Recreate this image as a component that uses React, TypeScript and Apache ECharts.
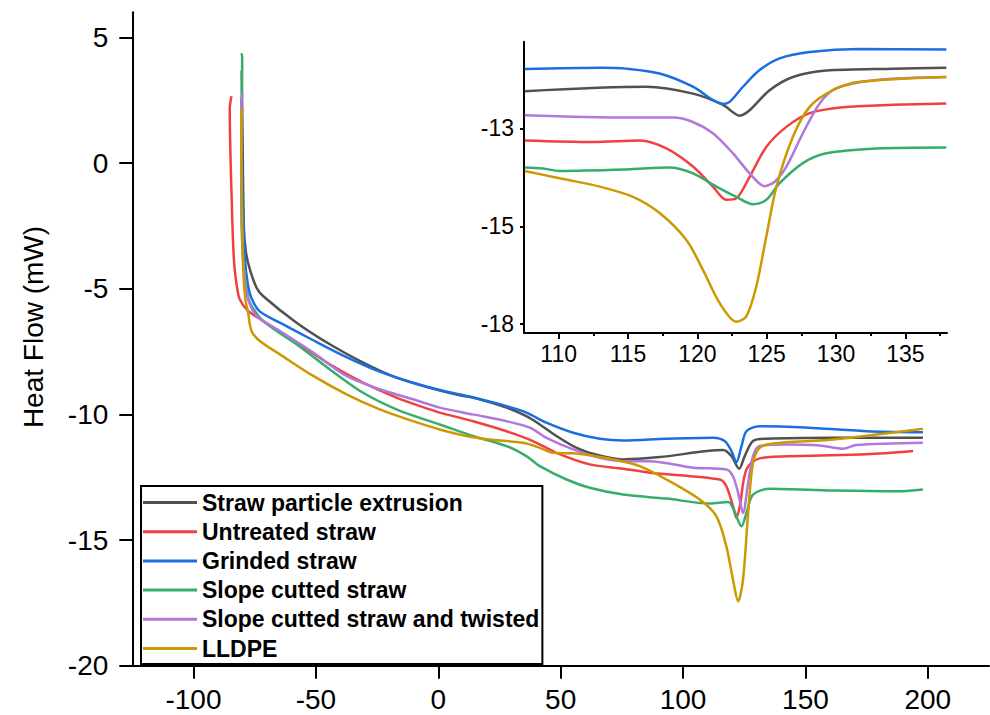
import React, { useEffect, useRef } from "react";
import * as echarts from "echarts";

const FONT = "'Liberation Sans', Arial, Helvetica, sans-serif";

const seriesNames = [
  "Straw particle extrusion",
  "Untreated straw",
  "Grinded straw",
  "Slope cutted straw",
  "Slope cutted straw and twisted",
  "LLDPE",
];
const seriesColors = ["#515151", "#F14040", "#1A6FDF", "#37AD6B", "#B177DE", "#CC9900"];

// main axis ticks
const mainXTicks = [-100, -50, 0, 50, 100, 150, 200];
const mainYTicks = [-20, -15, -10, -5, 0, 5];

// inset axis ticks
const insetXTicks = [110, 115, 120, 125, 130, 135];
const insetXMinorTicks = [112.5, 117.5, 122.5, 127.5, 132.5, 137.5];
const insetYTicks = [-17, -15, -13];
const insetYLabels = ["-18", "-15", "-13"];

// ---- main chart data: [temperature (°C), heat flow (mW)]
const mainExtrusion = [
  [-80.3, 3.67], [-79.9, 0.56], [-79.4, -2.63], [-78.5, -3.6], [-77.0, -4.22], [-74.3, -4.95],
  [-71.6, -5.29], [-57.9, -6.35], [-44.3, -7.21], [-30.7, -7.94], [-17.1, -8.54], [-3.5, -8.94], [8.8, -9.24],
  [14.2, -9.33], [27.9, -9.73], [36.0, -10.07], [41.5, -10.4], [48.3, -10.86], [55.1, -11.26],
  [61.9, -11.53], [75.5, -11.79], [90.5, -11.7], [116.3, -11.42], [119.8, -11.66], [122.9, -12.16],
  [125.2, -11.66], [128.6, -11.06], [134.1, -10.97], [161.3, -10.93], [198.0, -10.93],
];
const mainUntreated = [
  [-84.5, 2.66], [-85.2, 2.15], [-84.4, -1.43], [-83.5, -3.82], [-82.4, -4.82], [-81.1, -5.42],
  [-77.7, -5.88], [-71.6, -6.28], [-57.9, -7.14], [-44.3, -8.01], [-30.7, -8.74], [-17.1, -9.33],
  [-3.5, -9.8], [0.6, -9.93], [14.2, -10.27], [27.9, -10.67], [38.7, -11.06], [48.3, -11.53],
  [61.9, -11.99], [75.5, -12.16], [86.4, -12.32], [115.0, -12.59], [117.7, -12.86], [120.4, -13.65],
  [121.8, -14.12], [123.2, -13.65], [125.9, -12.19], [131.3, -11.75], [147.7, -11.66],
  [174.9, -11.59], [194.0, -11.46],
];
const mainGrinded = [
  [-80.4, 2.55], [-79.9, -1.43], [-79.0, -3.82], [-77.8, -4.82], [-76.3, -5.38], [-72.9, -5.9],
  [-64.7, -6.35], [-51.1, -7.05], [-37.5, -7.72], [-23.9, -8.3], [-10.3, -8.74], [0.6, -9.03],
  [14.2, -9.33], [27.9, -9.67], [36.0, -9.93], [44.2, -10.33], [55.1, -10.73], [66.0, -10.97],
  [75.5, -11.04], [93.2, -10.97], [112.3, -10.93], [117.0, -11.06], [119.8, -11.46], [121.8, -11.9],
  [123.9, -11.26], [125.9, -10.67], [131.3, -10.47], [147.7, -10.51], [174.9, -10.67], [198.0, -10.71],
];
const mainSlopeCut = [
  [-80.4, 4.37], [-80.1, 4.22], [-80.5, 0.56], [-80.3, -2.63], [-79.4, -4.22], [-78.2, -5.1],
  [-77.0, -5.55], [-71.6, -6.28], [-57.9, -7.21], [-44.3, -8.21], [-30.7, -9.14], [-17.1, -9.8],
  [-3.5, -10.27], [0.6, -10.4], [14.2, -10.86], [27.9, -11.26], [36.0, -11.66], [41.5, -12.06],
  [52.4, -12.59], [61.9, -12.92], [75.5, -13.19], [93.2, -13.35], [110.9, -13.55], [118.4, -13.49],
  [120.4, -13.72], [123.9, -14.45], [125.9, -13.92], [128.6, -13.19], [135.4, -12.96],
  [161.3, -13.03], [188.5, -13.06], [198.0, -12.99],
];
const mainSlopeTwisted = [
  [-80.0, 2.75], [-80.5, 2.35], [-80.3, -1.43], [-79.7, -3.82], [-78.8, -4.82], [-77.7, -5.42],
  [-74.3, -6.08], [-64.7, -6.68], [-51.1, -7.54], [-37.5, -8.47], [-23.9, -9.0], [-10.3, -9.4],
  [0.6, -9.73], [14.2, -10.0], [27.9, -10.27], [37.4, -10.53], [44.2, -10.93], [55.1, -11.39],
  [66.0, -11.73], [75.5, -11.86], [86.4, -11.86], [104.1, -12.12], [117.7, -12.19], [120.4, -12.46],
  [122.5, -13.12], [124.5, -13.92], [126.6, -12.72], [128.6, -11.66], [131.3, -11.26],
  [142.2, -11.2], [155.8, -11.24], [165.4, -11.37], [170.8, -11.22], [198.0, -11.13],
];
const mainLLDPE = [
  [-80.0, 2.18], [-80.5, 1.75], [-80.3, -1.43], [-79.7, -4.22], [-78.8, -5.42], [-77.7, -5.95],
  [-76.3, -6.68], [-72.9, -7.08], [-64.7, -7.61], [-51.1, -8.47], [-37.5, -9.2], [-23.9, -9.8],
  [-10.3, -10.27], [0.6, -10.6], [11.5, -10.86], [21.0, -11.0], [34.6, -11.13], [41.5, -11.33],
  [46.9, -11.53], [55.1, -11.55], [61.9, -11.63], [71.4, -11.79], [82.3, -12.06], [93.2, -12.59],
  [106.8, -13.39], [113.6, -14.05], [117.7, -15.25], [120.4, -16.57], [122.5, -17.44],
  [124.5, -16.57], [126.6, -13.92], [128.6, -11.92], [131.3, -11.33], [136.8, -11.16],
  [161.3, -11.0], [198.0, -10.57],
];

// ---- inset data (as drawn on the inset's own scale)
const insetExtrusion = [
  [107.55, -12.24], [116.32, -12.15], [119.68, -12.29], [121.85, -12.52], [123.05, -12.74],
  [123.77, -12.63], [125.21, -12.22], [126.89, -11.95], [129.3, -11.82], [134.1, -11.78], [137.95, -11.76],
];
const insetUntreated = [
  [107.55, -13.25], [112.47, -13.28], [115.84, -13.25], [117.76, -13.41], [119.68, -13.78],
  [121.12, -14.19], [122.09, -14.46], [122.81, -14.43], [123.77, -13.99], [124.97, -13.38],
  [126.42, -12.97], [128.1, -12.69], [130.5, -12.57], [134.1, -12.52], [137.95, -12.49],
];
const insetGrinded = [
  [107.55, -11.79], [113.19, -11.76], [114.88, -11.78], [117.28, -11.88], [119.68, -12.15],
  [121.12, -12.42], [121.85, -12.5], [122.33, -12.46], [123.29, -12.15], [124.49, -11.81],
  [125.93, -11.57], [128.1, -11.44], [131.7, -11.38], [137.95, -11.39],
];
const insetSlopeCut = [
  [107.55, -13.8], [108.87, -13.82], [110.07, -13.87], [114.88, -13.84], [118.0, -13.8],
  [119.68, -13.92], [121.37, -14.19], [122.81, -14.4], [124.01, -14.55], [124.97, -14.46],
  [125.93, -14.12], [127.61, -13.71], [129.3, -13.51], [132.91, -13.41], [137.95, -13.39],
];
const insetSlopeTwisted = [
  [107.55, -12.73], [114.88, -12.78], [118.24, -12.78], [119.68, -12.87], [121.12, -13.1],
  [122.57, -13.51], [123.77, -13.92], [124.85, -14.18], [125.57, -14.09], [126.42, -13.78],
  [127.61, -13.1], [128.82, -12.49], [130.02, -12.18], [132.91, -12.01], [137.95, -11.95],
];
const insetLLDPE = [
  [107.55, -13.87], [110.07, -14.02], [112.96, -14.19], [115.36, -14.4], [117.28, -14.73],
  [119.21, -15.28], [120.4, -15.89], [121.61, -16.57], [122.81, -16.95], [123.53, -16.84],
  [124.25, -16.23], [124.97, -15.21], [125.7, -14.19], [126.89, -13.17], [128.1, -12.56],
  [129.78, -12.22], [131.7, -12.05], [137.95, -11.95],
];

const mainData = [mainExtrusion, mainUntreated, mainGrinded, mainSlopeCut, mainSlopeTwisted, mainLLDPE];
const insetData = [insetExtrusion, insetUntreated, insetGrinded, insetSlopeCut, insetSlopeTwisted, insetLLDPE];

export default function App() {
  const ref = useRef<HTMLDivElement>(null);

  useEffect(() => {
    if (!ref.current) return;
    const chart = echarts.init(ref.current, undefined, { renderer: "svg" });

    const axisLineStyle = { color: "#000", width: 2 };

    const series: any[] = [];
    mainData.forEach((d, i) => {
      series.push({
        name: seriesNames[i],
        type: "line",
        xAxisIndex: 0,
        yAxisIndex: 0,
        data: d,
        showSymbol: false,
        smooth: 0.3,
        lineStyle: { color: seriesColors[i], width: 2.5 },
        itemStyle: { color: seriesColors[i] },
        z: 2 + i,
      });
    });
    insetData.forEach((d, i) => {
      series.push({
        name: seriesNames[i],
        type: "line",
        xAxisIndex: 1,
        yAxisIndex: 1,
        data: d,
        showSymbol: false,
        smooth: 0.3,
        lineStyle: { color: seriesColors[i], width: 2.5 },
        itemStyle: { color: seriesColors[i] },
        z: 2 + i,
      });
    });

    chart.setOption({
      animation: false,
      backgroundColor: "#fff",
      textStyle: { fontFamily: FONT },
      grid: [
        { left: 132.3, top: 12.3, width: 856.7, height: 653.4, containLabel: false },
        { left: 524, top: 41.7, width: 423, height: 291.3, containLabel: false },
      ],
      xAxis: [
        {
          type: "value",
          gridIndex: 0,
          min: -125,
          max: 225,
          splitLine: { show: false },
          axisLine: { show: true, onZero: false, lineStyle: axisLineStyle },
          axisTick: { show: true, inside: false, length: 13, customValues: mainXTicks, lineStyle: { color: "#000", width: 2 } },
          axisLabel: { customValues: mainXTicks, fontSize: 28, color: "#000", margin: 20, fontFamily: FONT },
        },
        {
          type: "value",
          gridIndex: 1,
          min: 107.5,
          max: 138,
          splitLine: { show: false },
          axisLine: { show: true, onZero: false, lineStyle: axisLineStyle },
          axisTick: { show: true, inside: false, length: 6, customValues: insetXTicks, lineStyle: { color: "#000", width: 2 } },
          axisLabel: { customValues: insetXTicks, fontSize: 23, color: "#000", margin: 9, fontFamily: FONT },
        },
        {
          type: "value",
          gridIndex: 1,
          position: "bottom",
          min: 107.5,
          max: 138,
          splitLine: { show: false },
          axisLine: { show: false, onZero: false },
          axisTick: { show: true, inside: false, length: 3, customValues: insetXMinorTicks, lineStyle: { color: "#000", width: 2 } },
          axisLabel: { show: false },
        },
      ],
      yAxis: [
        {
          type: "value",
          gridIndex: 0,
          min: -20,
          max: 6,
          splitLine: { show: false },
          axisLine: { show: true, onZero: false, lineStyle: axisLineStyle },
          axisTick: { show: true, inside: false, length: 13, customValues: mainYTicks, lineStyle: { color: "#000", width: 2 } },
          axisLabel: { customValues: mainYTicks, fontSize: 28, color: "#000", margin: 24, fontFamily: FONT },
        },
        {
          type: "value",
          gridIndex: 1,
          min: -17.18,
          max: -11.23,
          splitLine: { show: false },
          axisLine: { show: true, onZero: false, lineStyle: axisLineStyle },
          axisTick: { show: true, inside: false, length: 4, customValues: insetYTicks, lineStyle: { color: "#000", width: 2 } },
          axisLabel: {
            customValues: insetYTicks,
            fontSize: 23,
            color: "#000",
            margin: 10,
            fontFamily: FONT,
            formatter: (v: number) => {
              const idx = insetYTicks.findIndex((t) => Math.abs(t - v) < 1e-6);
              return idx >= 0 ? insetYLabels[idx] : "";
            },
          },
        },
      ],
      legend: {
        show: true,
        data: seriesNames,
        orient: "vertical",
        left: 141,
        top: 486,
        icon: "rect",
        itemWidth: 54,
        itemHeight: 3,
        itemGap: 6.2,
        padding: [5, 3, 4, 2],
        borderColor: "#000",
        borderWidth: 2,
        backgroundColor: "#fff",
        selectedMode: false,
        textStyle: { fontSize: 23, fontWeight: "bold", color: "#000", fontFamily: FONT, lineHeight: 23 },
      },
      graphic: [
        {
          type: "text",
          x: 33,
          y: 327,
          rotation: Math.PI / 2,
          style: {
            text: "Heat Flow (mW)",
            fontSize: 28,
            fontFamily: FONT,
            fill: "#000",
            align: "center",
            verticalAlign: "middle",
          },
        },
      ],
      series,
    });

    return () => {
      chart.dispose();
    };
  }, []);

  return (
    <div
      ref={ref}
      style={{ position: "fixed", left: 0, top: 0, width: 990, height: 715, background: "#fff" }}
    />
  );
}
